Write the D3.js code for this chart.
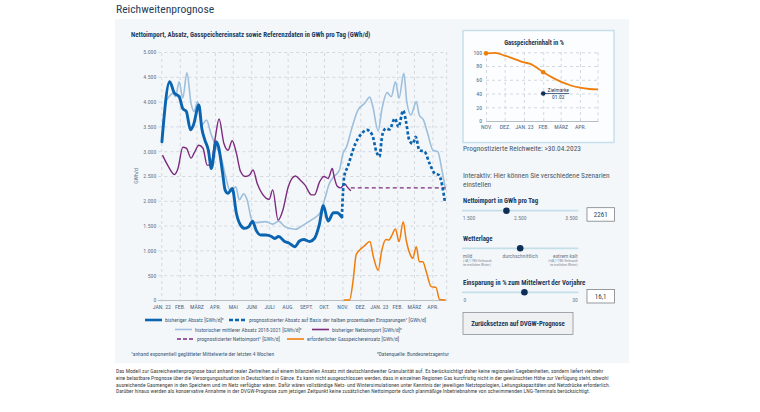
<!DOCTYPE html>
<html><head><meta charset="utf-8">
<script src="https://cdn.jsdelivr.net/npm/d3@7"></script>
<style>
html,body{margin:0;padding:0;background:#fff;}
svg{display:block;}
</style></head><body>
<svg id="c" width="760" height="412"></svg>
<script>
// ---------------- DATA ----------------
const bisherigerAbsatz = [
["2022-01-02",3190],["2022-01-15",4400],["2022-01-23",4170],["2022-01-31",4100],["2022-02-06",3860],
["2022-02-12",3800],["2022-02-19",3430],["2022-02-24",3530],["2022-03-05",3930],["2022-03-10",3460],
["2022-03-15",3230],["2022-03-21",3020],["2022-03-26",2650],["2022-04-03",3190],["2022-04-07",3090],
["2022-04-14",2550],["2022-04-18",2220],["2022-04-23",2150],["2022-04-30",2250],["2022-05-07",1750],
["2022-05-14",1510],["2022-05-21",1445],["2022-05-28",1480],["2022-06-03",1590],["2022-06-09",1410],
["2022-06-17",1310],["2022-06-25",1310],["2022-07-05",1280],["2022-07-10",1240],["2022-07-17",1280],
["2022-07-27",1180],["2022-08-03",1150],["2022-08-13",1075],["2022-08-21",1190],["2022-08-28",1220],
["2022-09-07",1180],["2022-09-15",1240],["2022-09-23",1510],["2022-09-30",1900],["2022-10-08",1590],
["2022-10-17",1760],["2022-10-23",1760],["2022-10-31",1670]];

const prognoseAbsatz = [
["2022-10-31",1670],["2022-11-04",2490],["2022-11-10",2690],["2022-11-16",2920],["2022-11-23",3160],
["2022-12-03",3350],["2022-12-12",3430],["2022-12-21",3330],["2022-12-28",2990],["2023-01-02",2890],
["2023-01-07",3330],["2023-01-13",3460],["2023-01-19",3440],["2023-01-28",3660],["2023-02-03",3490],
["2023-02-11",3820],["2023-02-16",3580],["2023-02-21",3230],["2023-02-27",3150],["2023-03-04",3290],
["2023-03-10",3020],["2023-03-19",2990],["2023-03-27",2760],["2023-04-05",2550],["2023-04-12",2520],
["2023-04-22",1980]];

const historischerAbsatz = [
["2022-01-10",4030],["2022-01-21",4170],["2022-01-25",4100],["2022-01-31",4400],["2022-02-06",4070],
["2022-02-13",4580],["2022-02-20",3960],["2022-02-25",3800],["2022-03-03",4000],["2022-03-10",3530],
["2022-03-18",3630],["2022-03-25",3360],["2022-04-03",3090],["2022-04-11",2890],["2022-04-19",2490],
["2022-04-27",2180],["2022-05-06",2280],["2022-05-12",2020],["2022-05-19",2140],["2022-05-25",2020],
["2022-06-02",1610],["2022-06-09",1560],["2022-06-25",1580],["2022-07-07",1530],["2022-07-17",1590],
["2022-07-27",1480],["2022-08-04",1445],["2022-08-14",1425],["2022-08-27",1510],["2022-09-12",1630],
["2022-09-24",1750],["2022-10-02",2020],["2022-10-10",2350],["2022-10-18",2490],["2022-10-27",2620],
["2022-11-02",2960],["2022-11-08",3090],["2022-11-16",3430],["2022-11-27",3830],["2022-12-08",3960],
["2022-12-17",4090],["2022-12-22",3900],["2022-12-31",3410],["2023-01-06",3830],["2023-01-15",4180],
["2023-01-22",4100],["2023-01-29",4400],["2023-02-04",4070],["2023-02-12",4570],["2023-02-17",4000],
["2023-02-24",3730],["2023-03-05",4000],["2023-03-10",3730],["2023-03-17",3630],["2023-03-24",3360],
["2023-04-02",3020],["2023-04-10",2990],["2023-04-17",2620],["2023-04-23",2220]];

const bisherigerNettoimport = [
["2022-01-03",2920],["2022-01-13",2690],["2022-01-23",2530],["2022-01-29",2650],["2022-02-06",3080],
["2022-02-12",3060],["2022-02-20",2860],["2022-02-25",2960],["2022-03-05",3120],["2022-03-12",3060],
["2022-03-19",2720],["2022-03-25",2720],["2022-04-01",3230],["2022-04-08",3650],["2022-04-16",3160],
["2022-04-23",3020],["2022-04-30",3210],["2022-05-07",2960],["2022-05-14",2590],["2022-05-22",2490],
["2022-05-29",2520],["2022-06-04",2620],["2022-06-11",2350],["2022-06-19",2150],["2022-07-01",2030],
["2022-07-07",2220],["2022-07-16",1610],["2022-07-24",1810],["2022-08-02",2280],["2022-08-14",2500],
["2022-08-22",2420],["2022-08-30",2320],["2022-09-10",2120],["2022-09-15",2120],["2022-09-24",2390],
["2022-10-01",2490],["2022-10-08",2450],["2022-10-15",2650],["2022-10-18",2490],["2022-10-23",2300],
["2022-10-29",2260],["2022-11-05",2340],["2022-11-09",2280],["2022-11-15",2200]];

const prognoseNettoimport = [["2022-11-15",2261],["2023-04-23",2261]];

const gasspeichereinsatz = [
["2022-11-03",0],["2022-11-13",0],["2022-11-19",400],["2022-11-24",910],["2022-11-30",1010],
["2022-12-08",1090],["2022-12-17",1180],["2022-12-23",870],["2022-12-31",600],["2023-01-06",1000],
["2023-01-13",1220],["2023-01-18",1210],["2023-01-22",1280],["2023-01-29",1430],["2023-02-04",1180],
["2023-02-11",1580],["2023-02-16",1210],["2023-02-23",910],["2023-02-27",840],["2023-03-05",1075],
["2023-03-10",770],["2023-03-16",770],["2023-03-21",600],["2023-03-30",270],["2023-04-07",255],
["2023-04-13",10],["2023-04-23",0]];

const gasspeicherinhalt = [
["2022-11-01",98.5],["2022-11-16",99.3],["2022-12-01",95.1],["2022-12-14",91.3],["2023-01-01",85.4],
["2023-01-13",82.5],["2023-01-23",76.7],["2023-02-01",70.9],["2023-02-13",64.6],["2023-03-01",57.3],
["2023-03-15",52.4],["2023-04-01",48.5],["2023-04-16",46.6],["2023-04-30",46.1]];
const speicherMarker = [["2022-11-01",98.5],["2023-02-01",70.9]];
const zielmarke = ["2023-02-01",40];

const mainYTicks = [0,500,1000,1500,2000,2500,3000,3500,4000,4500,5000];
const mainMonthLabels = ["JAN. 22","FEB.","MÄRZ","APR.","MAI","JUNI","JULI","AUG.","SEPT.","OKT.","NOV.","DEZ.","JAN. 23","FEB.","MÄRZ","APR."];
const speicherYTicks = [0,20,40,60,80,100];
const speicherMonthLabels = ["NOV.","DEZ.","JAN. 23","FEB.","MÄRZ","APR."];

const nettoimportRange = [1500,3500];
const nettoimportTicks = [1500,2500,3500];
const nettoimportValue = 2261;
const wetterOptions = ["mild","durchschnittlich","extrem kalt"];
const wetterValue = "durchschnittlich";
const einsparungRange = [0,30];
const einsparungValue = 16.1;

// ---------------- SETUP ----------------
const FONT = "'Liberation Sans Narrow','Roboto Condensed','Arial Narrow','Liberation Sans',sans-serif";
const NAVY = "#1d3b5a";
const C_DARK = "#0a64b0", C_LIGHT = "#9dbfdc", C_PURPLE = "#7b2a7e", C_ORANGE = "#f07d0a";
const de = d3.formatLocale({decimal:",",thousands:".",grouping:[3],currency:["","€"]});
const fmtInt = de.format(",.0f"), fmt1 = de.format(".1f");
const parse = d3.timeParse("%Y-%m-%d");
const svg = d3.select("#c").attr("font-family", FONT);

function txt(g, x, y, s, size, opts={}) {
  const t = g.append("text").attr("x",x).attr("y",y).text(s).attr("font-size",size)
    .attr("fill", opts.fill || NAVY).attr("font-family", FONT);
  if (opts.bold) t.attr("font-weight","bold");
  if (opts.anchor) t.attr("text-anchor", opts.anchor);
  return t;
}

// title & panel
txt(svg, 116, 13, "Reichweitenprognose", 11.6, {fill:"#24405e"});
svg.append("rect").attr("x",115).attr("y",19).attr("width",514).attr("height",344).attr("fill","#f4f7fa");
txt(svg, 131, 36.5, "Nettoimport, Absatz, Gasspeichereinsatz sowie Referenzdaten in GWh pro Tag (GWh/d)", 6.9, {bold:true});

// ---------------- MAIN CHART ----------------
const x = d3.scaleTime().domain([parse("2022-01-01"), parse("2023-04-25")]).range([161.3, 446.7]);
const y = d3.scaleLinear().domain([0,5000]).range([300,52]);
const plotW = 446.7-161.3;

const gy = svg.append("g").attr("transform","translate(161.3,0)")
  .call(d3.axisLeft(y).tickValues(mainYTicks).tickFormat(fmtInt).tickSize(-plotW).tickPadding(5));
gy.attr("font-family", FONT).attr("font-size", 5.8);
gy.select(".domain").remove();
gy.selectAll(".tick line").attr("stroke","#d3d8de").attr("stroke-dasharray","3,3").attr("x1",-3);
gy.selectAll(".tick text").attr("fill","#5b7490");

const monthTicks = d3.timeMonth.range(parse("2022-01-01"), parse("2023-04-02"));
const gx = svg.append("g").attr("transform","translate(0,300)")
  .call(d3.axisBottom(x).tickValues(monthTicks).tickFormat((d,i)=>mainMonthLabels[i]).tickSize(-248).tickSizeOuter(0).tickPadding(5));
gx.attr("font-family", FONT).attr("font-size", 5.8);
gx.select(".domain").attr("stroke","#b8bec5").attr("d","M158,0.5H446.7");
gx.selectAll(".tick line").attr("stroke","#d3d8de").attr("stroke-dasharray","3,3").attr("y1",2);
gx.selectAll(".tick text").attr("fill","#4d6783");
svg.append("line").attr("x1",x.range()[1]).attr("x2",x.range()[1]).attr("y1",52).attr("y2",300)
  .attr("stroke","#d3d8de").attr("stroke-dasharray","3,3");

svg.append("text").attr("transform","translate(138,176) rotate(-90)").attr("text-anchor","middle")
  .attr("font-size",5.8).attr("fill","#5b7490").attr("font-family",FONT).text("GWh/d");

const line = d3.line().x(d=>x(parse(d[0]))).y(d=>y(d[1])).curve(d3.curveMonotoneX);
function path(data, color, w, dash) {
  const p = svg.append("path").datum(data).attr("d", line).attr("fill","none")
    .attr("stroke", color).attr("stroke-width", w).attr("stroke-linejoin","round");
  if (dash) p.attr("stroke-dasharray", dash);
  return p;
}
path(historischerAbsatz, C_LIGHT, 1.6);
path(bisherigerNettoimport, C_PURPLE, 1.4);
path(prognoseNettoimport, C_PURPLE, 1.4, "4,3");
path(gasspeichereinsatz, C_ORANGE, 1.5);
path(bisherigerAbsatz, C_DARK, 2.9).attr("stroke-linecap","round");
path(prognoseAbsatz, C_DARK, 2.7, "3,2.2");

// legend
const legend = [
  {x:145, y:320, color:C_DARK, w:2.6, dash:null, label:"bisheriger Absatz [GWh/d]²"},
  {x:229, y:320, color:C_DARK, w:2.6, dash:"4,2", label:"prognostizierter Absatz auf Basis der halben prozentualen Einsparungen¹ [GWh/d]"},
  {x:175, y:329.5, color:C_LIGHT, w:1.6, dash:null, label:"historischer mittlerer Absatz 2018-2021 [GWh/d]²"},
  {x:312, y:329.5, color:C_PURPLE, w:1.6, dash:null, label:"bisheriger Nettoimport [GWh/d]²"},
  {x:177, y:339, color:C_PURPLE, w:1.6, dash:"4,2", label:"prognostizierter Nettoimport¹ [GWh/d]"},
  {x:287, y:339, color:C_ORANGE, w:1.6, dash:null, label:"erforderlicher Gasspeichereinsatz [GWh/d]"}];
legend.forEach(l => {
  const ln = svg.append("line").attr("x1",l.x).attr("x2",l.x+17).attr("y1",l.y).attr("y2",l.y)
    .attr("stroke",l.color).attr("stroke-width",l.w);
  if (l.dash) ln.attr("stroke-dasharray", l.dash);
  txt(svg, l.x+20, l.y+2, l.label, 5.5, {fill:"#3f5b78"});
});
txt(svg, 131, 356, "¹anhand exponentiell geglätteter Mittelwerte der letzten 4 Wochen", 5.5, {fill:"#3f5b78"});
txt(svg, 449, 356, "²Datenquelle: Bundesnetzagentur", 5.5, {fill:"#3f5b78", anchor:"end"});

// footer
const footer = [
"Das Modell zur Gasreichweitenprognose baut anhand realer Zeitreihen auf einem bilanziellen Ansatz mit deutschlandweiter Granularität auf. Es berücksichtigt daher keine regionalen Gegebenheiten, sondern liefert vielmehr",
"eine belastbare Prognose über die Versorgungssituation in Deutschland in Gänze. Es kann nicht ausgeschlossen werden, dass in einzelnen Regionen Gas kurzfristig nicht in der gewünschten Höhe zur Verfügung steht, obwohl",
"ausreichende Gasmengen in den Speichern und im Netz verfügbar wären. Dafür wären vollständige Netz- und Wintersimulationen unter Kenntnis der jeweiligen Netztopologien, Leitungskapazitäten und Netzdrücke erforderlich.",
"Darüber hinaus werden als konservative Annahme in der DVGW-Prognose zum jetzigen Zeitpunkt keine zusätzlichen Nettoimporte durch planmäßige Inbetriebnahme von schwimmenden LNG-Terminals berücksichtigt."];
footer.forEach((s,i) => txt(svg, 116, 373 + i*6.8, s, 5.6, {fill:"#3a3f45"}));

// ---------------- RIGHT PANEL: Gasspeicherinhalt ----------------
svg.append("rect").attr("x",463).attr("y",30.5).attr("width",151).attr("height",112)
  .attr("fill","#fbfdfe").attr("stroke","#c6e0ea").attr("stroke-width",1.5);
txt(svg, 534, 44.5, "Gasspeicherinhalt in %", 6.6, {bold:true, anchor:"middle"});

const sx = d3.scaleTime().domain([parse("2022-11-01"), parse("2023-04-30")]).range([486, 598]);
const sy = d3.scaleLinear().domain([0,100]).range([121, 52.3]);
const sgy = svg.append("g").attr("transform","translate(486,0)")
  .call(d3.axisLeft(sy).tickValues(speicherYTicks).tickSize(-(598-486)).tickPadding(4));
sgy.attr("font-family",FONT).attr("font-size",5.8);
sgy.select(".domain").remove();
sgy.selectAll(".tick line").attr("stroke","#d3d8de").attr("stroke-dasharray","3,3");
sgy.selectAll(".tick text").attr("fill","#4d6783");
const sMonths = d3.timeMonth.range(parse("2022-11-01"), parse("2023-04-02"));
const sgx = svg.append("g").attr("transform","translate(0,121)")
  .call(d3.axisBottom(sx).tickValues(sMonths).tickFormat((d,i)=>speicherMonthLabels[i]).tickSize(-69).tickSizeOuter(0).tickPadding(4));
sgx.attr("font-family",FONT).attr("font-size",5.8);
sgx.select(".domain").attr("stroke","#b8bec5");
sgx.selectAll(".tick line").attr("stroke","#d3d8de").attr("stroke-dasharray","3,3");
sgx.selectAll(".tick text").attr("fill","#4d6783");
svg.append("line").attr("x1",598).attr("x2",598).attr("y1",52.3).attr("y2",121)
  .attr("stroke","#d3d8de").attr("stroke-dasharray","3,3");

const sline = d3.line().x(d=>sx(parse(d[0]))).y(d=>sy(d[1])).curve(d3.curveMonotoneX);
svg.append("path").datum(gasspeicherinhalt).attr("d", sline).attr("fill","none")
  .attr("stroke",C_ORANGE).attr("stroke-width",1.8);
svg.selectAll(".smark").data(speicherMarker).join("circle")
  .attr("cx",d=>sx(parse(d[0]))).attr("cy",d=>sy(d[1])).attr("r",2.3).attr("fill",C_ORANGE);
const zx = sx(parse(zielmarke[0])), zy = sy(zielmarke[1]);
svg.append("line").attr("x1",zx).attr("x2",zx+26).attr("y1",zy).attr("y2",zy).attr("stroke","#1f3f66").attr("stroke-width",0.8);
svg.append("circle").attr("cx",zx).attr("cy",zy).attr("r",2.3).attr("fill","#0f2f57");
txt(svg, zx+15, zy-1.5, "Zielmarke", 5.5, {anchor:"middle", fill:"#1f3f66"});
txt(svg, zx+15, zy+5.5, "01.02", 5.5, {anchor:"middle", fill:"#1f3f66"});

txt(svg, 463, 151, "Prognostizierte Reichweite: >30.04.2023", 7.4, {fill:"#4a5561"});

// ---------------- CONTROLS ----------------
txt(svg, 463, 177.5, "Interaktiv: Hier können Sie verschiedene Szenarien", 7.4, {fill:"#4a5866"});
txt(svg, 463, 186.5, "einstellen", 7.4, {fill:"#4a5866"});

function track(yy){
  svg.append("line").attr("x1",462.7).attr("x2",577.7).attr("y1",yy).attr("y2",yy)
    .attr("stroke","#c3e0e9").attr("stroke-width",1.8).attr("stroke-linecap","round");
}
function knob(cx, cy){ svg.append("circle").attr("cx",cx).attr("cy",cy).attr("r",3.3).attr("fill","#0e2f57"); }
function inputBox(yy, s){
  svg.append("rect").attr("x",587).attr("y",yy).attr("width",27.5).attr("height",13.5)
    .attr("fill","#fff").attr("stroke","#7c8288").attr("stroke-width",0.8);
  txt(svg, 600.7, yy+9.3, s, 7, {anchor:"middle", fill:"#2c3e50"});
}

// Nettoimport
txt(svg, 463, 202.5, "Nettoimport in GWh pro Tag", 6.8, {bold:true});
const nx = d3.scaleLinear().domain(nettoimportRange).range([462.7,577.7]);
track(210.7);
nettoimportTicks.forEach((t,i)=> txt(svg, nx(t), 219.5, fmtInt(t), 5.6,
  {fill:"#6b7785", anchor: i===0?"start":(i===nettoimportTicks.length-1?"end":"middle")}));
knob(nx(nettoimportValue), 210.7);
inputBox(207.7, String(nettoimportValue));

// Wetterlage
txt(svg, 463, 241, "Wetterlage", 6.8, {bold:true});
const wx = d3.scalePoint().domain(wetterOptions).range([462.7,577.7]);
track(248.3);
wetterOptions.forEach((w,i)=> txt(svg, wx(w), 257.5, w, 5.6,
  {fill:"#6b7785", anchor: i===0?"start":(i===wetterOptions.length-1?"end":"middle")}));
txt(svg, 463, 262, "(-48,1 TWh Verbrauch", 3.4, {fill:"#7d8894"});
txt(svg, 463, 265.6, "im restlichen Winter)", 3.4, {fill:"#7d8894"});
txt(svg, 577.7, 262, "(+48,1 TWh Verbrauch", 3.4, {fill:"#7d8894", anchor:"end"});
txt(svg, 577.7, 265.6, "im restlichen Winter)", 3.4, {fill:"#7d8894", anchor:"end"});
knob(wx(wetterValue), 248.3);

// Einsparung
txt(svg, 463, 284.5, "Einsparung in % zum Mittelwert der Vorjahre", 6.9, {bold:true});
const ex = d3.scaleLinear().domain(einsparungRange).range([462.7,577.7]);
track(292.3);
txt(svg, 463.5, 302, String(einsparungRange[0]), 5.6, {fill:"#6b7785"});
txt(svg, 577.7, 302, String(einsparungRange[1]), 5.6, {fill:"#6b7785", anchor:"end"});
knob(ex(einsparungValue), 292.3);
inputBox(289.5, fmt1(einsparungValue));

// Button
svg.append("rect").attr("x",463).attr("y",312.5).attr("width",110).attr("height",22)
  .attr("fill","#eef0f2").attr("stroke","#8d9399").attr("stroke-width",0.8);
txt(svg, 518, 325.8, "Zurücksetzen auf DVGW-Prognose", 6.8, {bold:true, anchor:"middle"});
</script></body></html>
